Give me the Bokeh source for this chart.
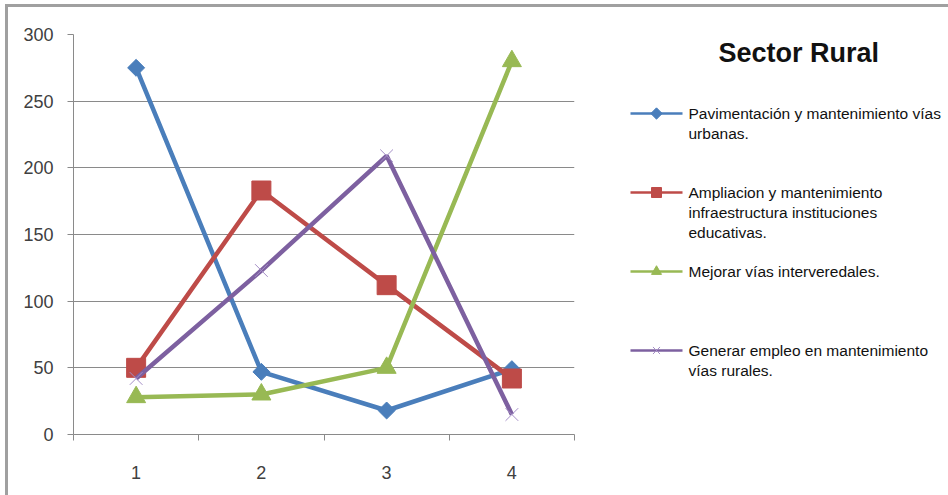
from bokeh.plotting import figure
from bokeh.layouts import row
from bokeh.models import FixedTicker, Range1d
from bokeh.core.properties import value
from bokeh.embed import file_html
from bokeh.resources import INLINE
import math

categories = [1, 2, 3, 4]
series_names = [
    "Pavimentación y mantenimiento vías\nurbanas.",
    "Ampliacion y mantenimiento\ninfraestructura instituciones\neducativas.",
    "Mejorar vías interveredales.",
    "Generar empleo en mantenimiento\nvías rurales.",
]
pavimentacion = [275, 47, 18, 49]
ampliacion = [50, 183, 112, 42]
mejorar = [28, 30, 50, 280]
generar = [42, 123, 209, 15]
y_ticks = [0, 50, 100, 150, 200, 250, 300]
title_text = "Sector  Rural"

series = [pavimentacion, ampliacion, mejorar, generar]
colors = ["#4a7ebb", "#be4b48", "#98b954", "#7d60a0"]
markers = ["square", "square", "triangle", "x"]
angles = [math.pi / 4, 0, 0, 0]
msizes = [12, 19, 19, 18]

FONT = "Liberation Sans"
GRID = "#8a8a8a"
TOP, BOTTOM = 27, 61

p = figure(width=576, height=488, output_backend="svg", toolbar_location=None,
           x_range=Range1d(0.5, 4.5), y_range=Range1d(0, 300),
           min_border_left=65, min_border_right=10, min_border_top=TOP, min_border_bottom=BOTTOM)
p.outline_line_color = None
p.xgrid.grid_line_color = None
p.ygrid.grid_line_color = GRID
p.ygrid.ticker = FixedTicker(ticks=y_ticks)

p.yaxis.ticker = FixedTicker(ticks=y_ticks)
p.yaxis.axis_line_color = GRID
p.yaxis.major_tick_line_color = GRID
p.yaxis.major_tick_out = 6
p.yaxis.major_tick_in = 0
p.yaxis.minor_tick_line_color = None
p.yaxis.major_label_standoff = 14
p.yaxis.major_label_text_font = FONT
p.yaxis.major_label_text_font_size = "18px"
p.yaxis.major_label_text_color = "#404040"

bounds = [c - 0.5 for c in categories] + [categories[-1] + 0.5]
p.xaxis.ticker = FixedTicker(ticks=categories, minor_ticks=bounds)
p.xaxis.axis_line_color = GRID
p.xaxis.major_tick_line_color = None
p.xaxis.major_tick_out = 0
p.xaxis.major_tick_in = 0
p.xaxis.minor_tick_line_color = GRID
p.xaxis.minor_tick_out = 6
p.xaxis.minor_tick_in = 0
p.xaxis.major_label_standoff = 25
p.xaxis.major_label_text_font = FONT
p.xaxis.major_label_text_font_size = "18px"
p.xaxis.major_label_text_color = "#404040"

for vals, c, m, a, s in zip(series, colors, markers, angles, msizes):
    p.line(categories, vals, line_color=c, line_width=4.5)
    if m == "x":
        p.scatter(categories, vals, marker=m, size=s, line_color="#a58fc7", line_width=1)
    else:
        p.scatter(categories, vals, marker=m, size=s, angle=a, fill_color=c, line_color=c)

# legend / title panel (frame aligned with the main plot's frame; coords in pixels from frame top-left)
W2, H2 = 365, 488
FH = H2 - TOP - BOTTOM
q = figure(width=W2, height=H2, output_backend="svg", toolbar_location=None,
           x_range=Range1d(0, W2), y_range=Range1d(FH, 0),
           min_border_left=0, min_border_right=0, min_border_top=TOP, min_border_bottom=BOTTOM)
q.axis.visible = False
q.grid.visible = False
q.outline_line_color = None

q.text(x=[218], y=[18], text=[title_text], text_font=value(FONT), text_font_style="bold",
       text_font_size="27px", text_align="center", text_baseline="middle", text_color="#111111")

key_y = [79, 158, 237, 316]
for i, (name, c, m, a) in enumerate(zip(series_names, colors, markers, angles)):
    ky = key_y[i]
    q.line([46, 98], [ky, ky], line_color=c, line_width=2.5)
    if m == "x":
        q.scatter([72], [ky], marker="x", size=10, line_color="#a58fc7", line_width=1)
    else:
        q.scatter([72], [ky], marker=m, size=[8, 10, 10][i], angle=a, fill_color=c, line_color=c)
    q.text(x=[104], y=[ky - 9], text=[name], text_font=value(FONT), text_font_size="15.5px",
           text_align="left", text_baseline="top", text_color="#111111", text_line_height=1.2)

layout = row(p, q, styles={"border-top": "3px solid #a0a0a0", "border-left": "3px solid #a0a0a0",
                           "margin-left": "5px", "margin-top": "4px"})

open("out.html", "w").write(file_html(layout, INLINE))
